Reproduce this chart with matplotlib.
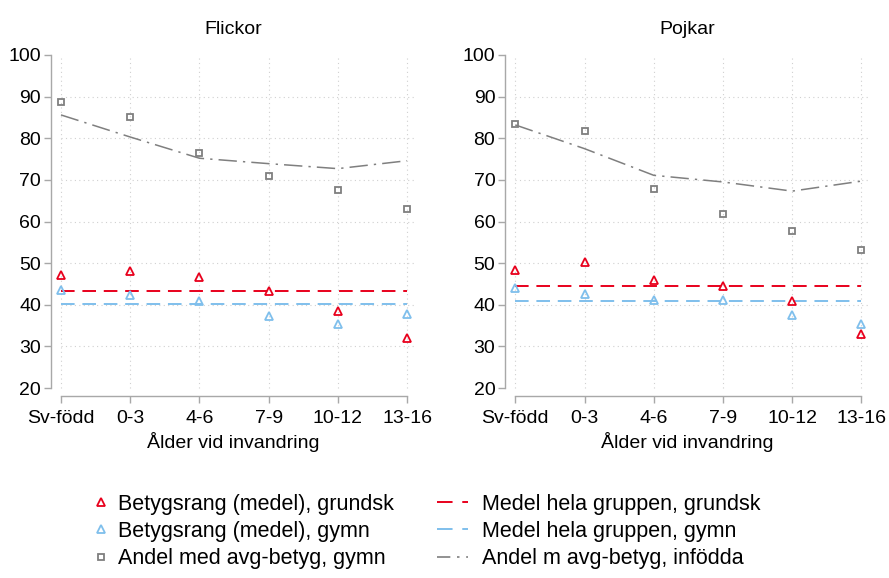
import matplotlib
matplotlib.use("Agg")
import matplotlib.pyplot as plt
from matplotlib.lines import Line2D

plt.rcParams['font.family'] = ['Liberation Sans', 'DejaVu Sans']

categories = ["Sv-född", "0-3", "4-6", "7-9", "10-12", "13-16"]
panels = ["Flickor", "Pojkar"]

# Flickor
f_grund = [47.2, 48.0, 46.7, 43.2, 38.4, 32.0]
f_gymn = [43.6, 42.3, 41.0, 37.2, 35.4, 37.7]
f_andel = [88.8, 85.1, 76.4, 70.9, 67.6, 63.1]
f_andel_inf = [85.6, 80.3, 75.2, 73.9, 72.7, 74.6]
f_mean_grund = 43.3
f_mean_gymn = 40.1

# Pojkar
p_grund = [48.3, 50.2, 46.0, 44.4, 40.8, 32.9]
p_gymn = [44.0, 42.5, 41.2, 41.2, 37.6, 35.4]
p_andel = [83.4, 81.7, 67.7, 61.9, 57.6, 53.1]
p_andel_inf = [83.2, 77.5, 71.1, 69.5, 67.3, 69.7]
p_mean_grund = 44.5
p_mean_gymn = 40.9

yticks = [20, 30, 40, 50, 60, 70, 80, 90, 100]

RED = "#e8001c"
BLUE = "#7fbfec"
GRAY = "#7f7f7f"
AX = "#a8a8a8"
FS = 14
LFS = 15.5

fig = plt.figure(figsize=(8.89, 5.78), dpi=100)
W, H = 889, 578

def make_ax(left_px):
    l = left_px / W
    b = 1 - 396 / H
    w = 365.3 / W
    h = (396 - 53) / H
    return fig.add_axes([l, b, w, h])

data = [
    (f_grund, f_gymn, f_andel, f_andel_inf, f_mean_grund, f_mean_gymn),
    (p_grund, p_gymn, p_andel, p_andel_inf, p_mean_grund, p_mean_gymn),
]
lefts = [50.7, 505.0]

x = list(range(len(categories)))
for ax_left, d, title in zip(lefts, data, panels):
    g, gy, a, ai, mg, mgy = d
    ax = make_ax(ax_left)
    ax.set_xlim(-(10.3 / 69.2), 5 + 9 / 69.2)
    ax.set_ylim(20 - 8 / 4.175, 100 + 2 / 4.175)
    ax.set_xticks(x)
    ax.set_xticklabels(categories)
    ax.set_yticks(yticks)
    for s in ["top", "right"]:
        ax.spines[s].set_visible(False)
    ax.spines["left"].set_bounds(20, 100)
    ax.spines["bottom"].set_bounds(0, 5)
    for s in ["left", "bottom"]:
        ax.spines[s].set_color(AX)
        ax.spines[s].set_linewidth(1.0)
    ax.tick_params(axis="both", colors=AX, labelcolor="black", labelsize=FS,
                   length=5, width=1.0)
    ax.tick_params(axis="x", pad=5)
    ax.tick_params(axis="y", pad=2)
    for xv in x:
        ax.plot([xv, xv], [20, 100], color="#d0d0d0", lw=0.8, ls=(0, (1, 3)), zorder=0)
    for yv in yticks[1:-1]:
        ax.plot([0.0, 5.13], [yv, yv], color="#d0d0d0", lw=0.8, ls=(0, (1, 3)), zorder=0)
    ax.plot([0, 5], [mg, mg], color=RED, lw=1.4, ls=(0, (7, 4)), zorder=2)
    ax.plot([0, 5], [mgy, mgy], color=BLUE, lw=1.4, ls=(0, (7, 4)), zorder=2)
    ax.plot(x, ai, color=GRAY, lw=1.1, ls=(0, (12, 4, 1.5, 4)), zorder=2)
    ax.plot(x, a, ls="none", marker="s", ms=5, mfc="none", mec=GRAY, mew=1.3, zorder=3)
    ax.plot(x, gy, ls="none", marker="^", ms=5.5, mfc="none", mec=BLUE, mew=1.3, zorder=3)
    ax.plot(x, g, ls="none", marker="^", ms=5.5, mfc="none", mec=RED, mew=1.3, zorder=3)
    ax.set_title(title, fontsize=FS, pad=14)
    ax.set_xlabel("Ålder vid invandring", fontsize=FS, labelpad=4)

h1 = [
    Line2D([], [], ls="none", marker="^", ms=5.5, mfc="none", mec=RED, mew=1.3),
    Line2D([], [], ls="none", marker="^", ms=5.5, mfc="none", mec=BLUE, mew=1.3),
    Line2D([], [], ls="none", marker="s", ms=5, mfc="none", mec=GRAY, mew=1.3),
]
l1 = [
    "Betygsrang (medel), grundsk",
    "Betygsrang (medel), gymn",
    "Andel med avg-betyg, gymn",
]
h2 = [
    Line2D([], [], color=RED, lw=1.4, ls=(0, (8, 5))),
    Line2D([], [], color=BLUE, lw=1.4, ls=(0, (8, 5))),
    Line2D([], [], color=GRAY, lw=1.2, ls=(0, (8, 4, 1.5, 4))),
]
l2 = [
    "Medel hela gruppen, grundsk",
    "Medel hela gruppen, gymn",
    "Andel m avg-betyg, infödda",
]
common = dict(loc="upper left", frameon=False, fontsize=LFS, handlelength=1.45,
              labelspacing=0.28, borderpad=0, borderaxespad=0)
fig.legend(h1, l1, bbox_to_anchor=(85.5 / W, 1 - 494 / H), handletextpad=0.07, **common)
fig.legend(h2, l2, bbox_to_anchor=(437 / W, 1 - 494 / H), handletextpad=0.65, **common)

fig.savefig("out.png", dpi=100, facecolor="white")
